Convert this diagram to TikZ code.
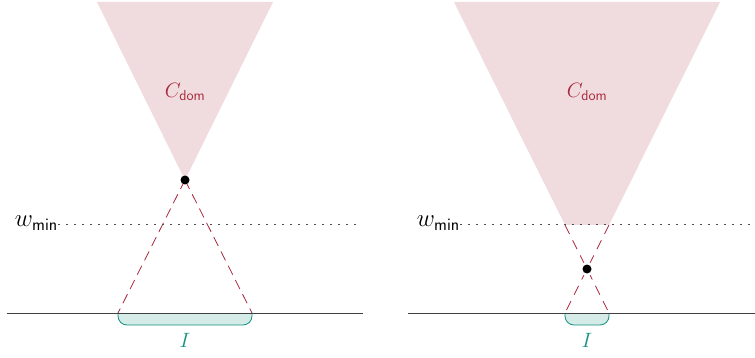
\documentclass[tikz,border=0pt]{standalone}
\usepackage{amsmath}
\begin{document}
\begin{tikzpicture}[x=1pt,y=-1pt,
  cone/.style={fill=conered,fill opacity=0.17,draw=none},
  ray/.style={draw=conered,line width=0.8pt,dash pattern=on 10pt off 6pt},
  wline/.style={draw=black!70,line width=1pt,dash pattern=on 1.6pt off 6.4pt},
  base/.style={draw=black!75,line width=0.9pt},
  interval/.style={draw=tealc,fill=tealc!18,line width=0.8pt,rounded corners=9pt},
  lbl/.style={font=\fontsize{20}{24}\selectfont,inner sep=0pt},
  wlbl/.style={font=\fontsize{23}{27}\selectfont,inner sep=0pt},
  pt/.style={circle,fill=black,inner sep=0pt,minimum size=9pt}]
\definecolor{conered}{HTML}{A8283A}
\definecolor{tealc}{HTML}{14917F}
\useasboundingbox (0,0) rectangle (755,358);
% ---------- left panel ----------
\coordinate (LT1) at (97,2);
\coordinate (LT2) at (273,2);
\coordinate (LA) at (185,180);
\coordinate (LB1) at (118,313);
\coordinate (LB2) at (252,313);
\fill[cone] (LT1) -- (LT2) -- (LA) -- cycle;
\node[lbl,text=conered] (lc) at (185,92) {$C_{\mathsf{dom}}$};
\draw[ray] (LA) -- (LB1);
\draw[ray] (LA) -- (LB2);
\node[wlbl,anchor=east] (lw) at (58,223) {$w_{\mathsf{min}}$};
\coordinate (LWE) at (357,225);
\draw[wline] (lw.east |- LWE) -- (LWE);
\coordinate (LBL) at (7,313);
\coordinate (LBR) at (363,313);
\draw[interval] (LB1) -- (118,325) -- (252,325) -- (LB2);
\draw[base] (LBL) -- (LBR);
\node[pt] (ld) at (LA) {};
\node[lbl,text=tealc] (li) at (185,340) {$I$};
% ---------- right panel ----------
\coordinate (RT1) at (454,2);
\coordinate (RT2) at (720,2);
\coordinate (RW1) at (565,225);
\coordinate (RW2) at (609,225);
\coordinate (RA) at (587,269);
\coordinate (RB1) at (565,313);
\coordinate (RB2) at (609,313);
\fill[cone] (RT1) -- (RT2) -- (RW2) -- (RW1) -- cycle;
\node[lbl,text=conered] (rc) at (587,92) {$C_{\mathsf{dom}}$};
\draw[ray,dash pattern=on 10pt off 7pt] (RW1) -- (RB2);
\draw[ray,dash pattern=on 10pt off 7pt] (RW2) -- (RB1);
\node[wlbl,anchor=east] (rw) at (460,223) {$w_{\mathsf{min}}$};
\coordinate (RWE) at (755,225);
\draw[wline] (rw.east |- RWE) -- (RWE);
\coordinate (RBL) at (408,313);
\coordinate (RBR) at (755,313);
\draw[interval] (RB1) -- (565,325) -- (609,325) -- (RB2);
\draw[base] (RBL) -- (RBR);
\node[pt,fill=white,minimum size=14pt] (rdw) at (RA) {};
\node[pt] (rd) at (RA) {};
\node[lbl,text=tealc] (ri) at (587,340) {$I$};
\end{tikzpicture}
\end{document}
